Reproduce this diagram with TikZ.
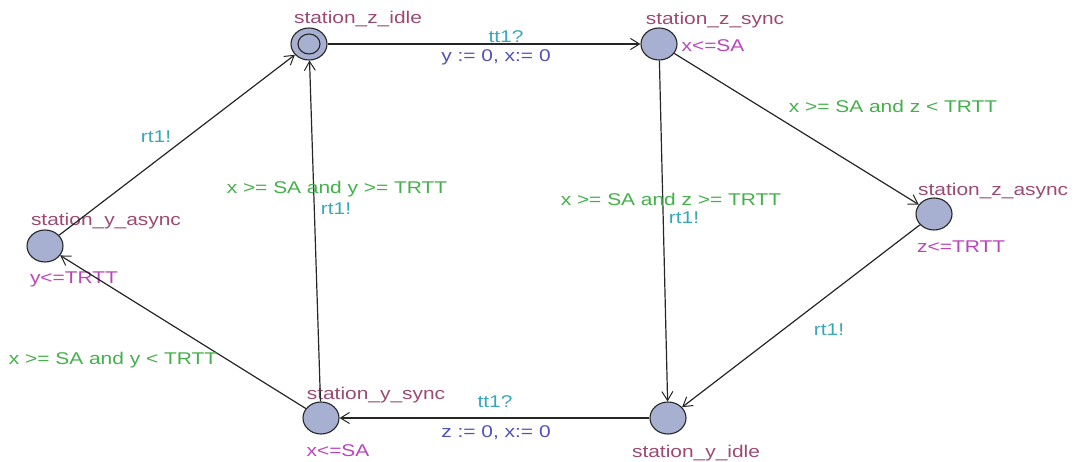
\documentclass[tikz,border=0pt]{standalone}
\usepackage{fontspec}
\setmainfont{Liberation Sans}[FakeStretch=1.23]
\usetikzlibrary{arrows.meta,shapes.geometric}
\definecolor{locfill}{HTML}{A8B0D2}
\definecolor{namecol}{HTML}{9B4A73}
\definecolor{invcol}{HTML}{BB44BB}
\definecolor{guardcol}{HTML}{44B04A}
\definecolor{synccol}{HTML}{3AA6B9}
\definecolor{asgcol}{HTML}{5050BB}
\tikzset{
  loc/.style={ellipse,draw=black!85,line width=1.1pt,fill=locfill,minimum width=36pt,minimum height=32pt,inner sep=0pt},
  txtlbl/.style={inner sep=0pt,font=\fontsize{17}{19}\selectfont},
  locname/.style={txtlbl,text=namecol},
  invlbl/.style={txtlbl,text=invcol},
  guardlbl/.style={txtlbl,text=guardcol},
  synclbl/.style={txtlbl,text=synccol},
  asglbl/.style={txtlbl,text=asgcol},
  conn/.style={draw=black!85,line width=1.2pt,-{Straight Barb[length=9pt,width=11pt,line width=1pt]}}
}
\begin{document}
\begin{tikzpicture}[x=1pt,y=-1pt]
\useasboundingbox (0,0) rectangle (1074,462);
% locations
\node[loc] (zidle) at (309,44) {};
\draw[black!85,line width=1.1pt] (zidle.center) ellipse [x radius=11pt,y radius=10pt];
\node[loc] (zsync) at (659,44) {};
\node[loc] (zasync) at (934,214) {};
\node[loc] (yidle) at (668,418) {};
\node[loc] (ysync) at (321,418) {};
\node[loc] (yasync) at (45,246) {};
% names
\node[locname] (nzidle) at (358,19) {station\_z\_idle};
\node[locname] (nzsync) at (715,20) {station\_z\_sync};
\node[locname,anchor=west] (nzasync) at (918,191) {station\_z\_async};
\node[locname] (nyidle) at (696,453) {station\_y\_idle};
\node[locname] (nysync) at (376,395) {station\_y\_sync};
\node[locname] (nyasync) at (106,221) {station\_y\_async};
% invariants
\node[invlbl] (izsync) at (713,46) {x<=SA};
\node[invlbl,anchor=west] (izasync) at (917,247) {z<=TRTT};
\node[invlbl] (iysync) at (338,451) {x<=SA};
\node[invlbl] (iyasync) at (74,279) {y<=TRTT};
% edges
\draw[conn] (zidle) -- (zsync);
\draw[conn] (zsync) -- (zasync);
\draw[conn] (zsync) -- (yidle);
\draw[conn] (zasync) -- (yidle);
\draw[conn] (yidle) -- (ysync);
\draw[conn] (ysync) -- (zidle);
\draw[conn] (ysync) -- (yasync);
\draw[conn] (yasync) -- (zidle);
% edge labels
\node[synclbl] (s1) at (506,37) {tt1?};
\node[asglbl] (a1) at (496,57) {y := 0, x:= 0};
\node[guardlbl] (g2) at (893,106) {x >= SA and z < TRTT};
\node[guardlbl] (g3) at (671,199) {x >= SA and z >= TRTT};
\node[synclbl] (s3) at (684,218) {rt1!};
\node[synclbl] (s4) at (829,330) {rt1!};
\node[synclbl] (s5) at (495,402) {tt1?};
\node[asglbl] (a5) at (496,433) {z := 0, x:= 0};
\node[guardlbl] (g6) at (337,189) {x >= SA and y >= TRTT};
\node[synclbl] (s6) at (336,209) {rt1!};
\node[guardlbl] (g7) at (113,360) {x >= SA and y < TRTT};
\node[synclbl] (s8) at (156,137) {rt1!};
\end{tikzpicture}
\end{document}
